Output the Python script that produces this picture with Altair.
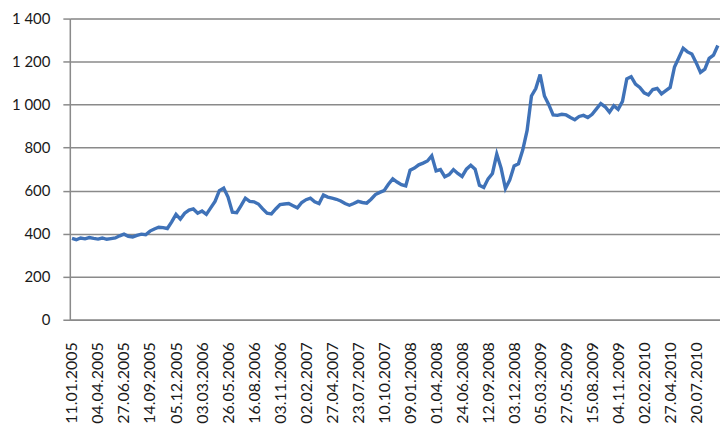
import altair as alt
import pandas as pd

tick_labels = [
    "11.01.2005", "04.04.2005", "27.06.2005", "14.09.2005", "05.12.2005",
    "03.03.2006", "26.05.2006", "16.08.2006", "03.11.2006", "02.02.2007",
    "27.04.2007", "23.07.2007", "10.10.2007", "09.01.2008", "01.04.2008",
    "24.06.2008", "12.09.2008", "03.12.2008", "05.03.2009", "27.05.2009",
    "15.08.2009", "04.11.2009", "02.02.2010", "27.04.2010", "20.07.2010",
]

price = [
    378, 372, 380, 376, 382, 378,
    375, 380, 374, 377, 380, 390,
    398, 388, 385, 392, 398, 395,
    412, 422, 430, 428, 424, 455,
    490, 468, 495, 510, 515, 495,
    505, 490, 520, 550, 600, 612,
    570, 500, 498, 530, 565, 550,
    548, 538, 515, 495, 492, 515,
    535, 538, 540, 530, 520, 545,
    558, 565, 548, 540, 580, 570,
    565, 560, 552, 540, 532, 540,
    550, 545, 542, 560, 582, 592,
    600, 630, 655, 640, 628, 622,
    695, 705, 720, 728, 738, 762,
    692, 698, 665, 675, 698, 680,
    666, 700, 718, 700, 625, 615,
    655, 680, 770, 705, 610, 650,
    715, 725, 790, 880, 1040, 1075,
    1140, 1040, 1000, 952, 950, 955,
    952, 940, 930, 945, 950, 940,
    955, 980, 1005, 990, 965, 995,
    978, 1015, 1120, 1130, 1095, 1080,
    1055, 1045, 1070, 1075, 1050, 1065,
    1080, 1175, 1218, 1262, 1245, 1235,
    1195, 1150, 1165, 1215, 1230, 1275,
]

step = 6
n = len(price)
df = pd.DataFrame({"idx": list(range(n)), "price": price})

label_array = "[" + ",".join("'" + s + "'" for s in tick_labels) + "]"
label_expr = label_array + "[round(datum.value / " + str(step) + ")]"

grid_color = "#8a8a8a"
font = "Lato"

chart = alt.Chart(df).mark_line(color="#3f72b8", strokeWidth=3.4).encode(
    x=alt.X(
        "idx:Q",
        scale=alt.Scale(domain=[-0.5, n - 0.5], nice=False, zero=False),
        axis=alt.Axis(
            title=None,
            values=[i * step for i in range(len(tick_labels))],
            labelExpr=label_expr,
            labelAngle=270,
            labelOverlap=False,
            labelFlush=False,
            grid=False,
            ticks=False,
            labelPadding=22,
            domainColor=grid_color,
            domainWidth=1.5,
            labelFont=font,
            labelFontSize=16,
            labelColor="#1a1a1a",
        ),
    ),
    y=alt.Y(
        "price:Q",
        scale=alt.Scale(domain=[0, 1400], nice=False),
        axis=alt.Axis(
            title=None,
            values=[0, 200, 400, 600, 800, 1000, 1200, 1400],
            labelExpr="replace(format(datum.value, ','), ',', ' ')",
            grid=True,
            gridColor=grid_color,
            gridWidth=1.5,
            tickColor=grid_color,
            tickSize=7,
            tickWidth=1.5,
            labelPadding=13,
            domainColor=grid_color,
            domainWidth=1.5,
            labelFont=font,
            labelFontSize=15,
            labelColor="#1a1a1a",
        ),
    ),
).properties(
    width=652,
    height=302,
    autosize=alt.AutoSizeParams(type="none"),
    padding={"left": 62, "top": 10, "right": 0, "bottom": 118},
).configure_view(stroke=None).configure(background="white")

chart.save("out.html", embed_options={"renderer": "svg", "actions": False})
